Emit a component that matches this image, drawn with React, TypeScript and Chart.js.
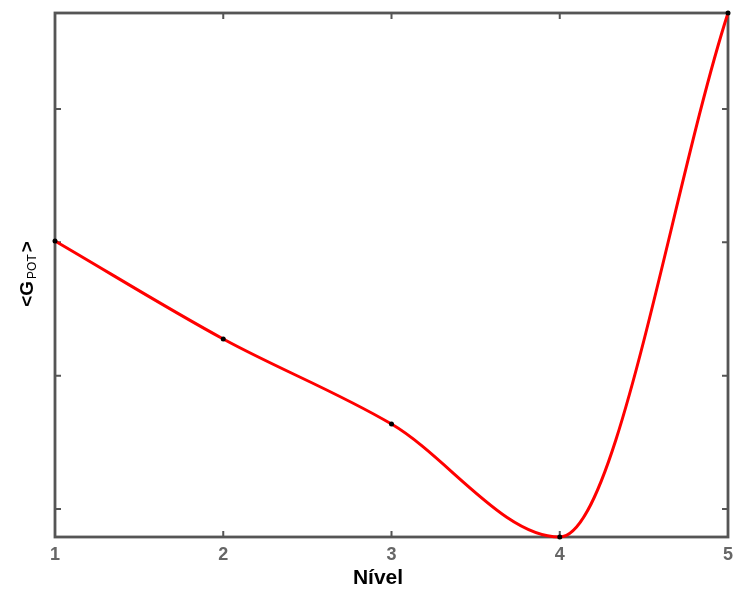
import React, { useEffect, useRef } from "react";
import { Chart, registerables } from "chart.js";

Chart.register(...registerables);

const levels = ["1", "2", "3", "4", "5"];
const gpot = [3.01, 2.275, 1.637, 0.79, 4.72];
const yTickValues = [1, 2, 3, 4];
const yMin = 0.79;
const yMax = 4.72;
const xTitle = "Nível";
const yTitleMain = "<G";
const yTitleSub = "POT";
const yTitleEnd = ">";

const framePlugin = {
  id: "frame",
  beforeDatasetsDraw(chart: any) {
    const { ctx, chartArea: a, scales } = chart;
    const xs = scales.x;
    const ys = scales.y;
    ctx.save();
    ctx.strokeStyle = "#555";
    ctx.lineWidth = 2.8;
    ctx.strokeRect(a.left, a.top, a.right - a.left, a.bottom - a.top);
    ctx.lineWidth = 2;
    const t = 6;
    ctx.beginPath();
    for (let i = 1; i < levels.length - 1; i++) {
      const px = xs.getPixelForValue(i);
      ctx.moveTo(px, a.bottom);
      ctx.lineTo(px, a.bottom - t);
      ctx.moveTo(px, a.top);
      ctx.lineTo(px, a.top + t);
    }
    for (const v of yTickValues) {
      const py = ys.getPixelForValue(v);
      ctx.moveTo(a.left, py);
      ctx.lineTo(a.left + t, py);
      ctx.moveTo(a.right, py);
      ctx.lineTo(a.right - t, py);
    }
    ctx.stroke();
    ctx.restore();
  },
  afterDraw(chart: any) {
    const { ctx } = chart;
    ctx.save();
    ctx.fillStyle = "#000";
    ctx.font = "bold 21px 'Liberation Sans', Arial, sans-serif";
    ctx.textAlign = "center";
    ctx.textBaseline = "alphabetic";
    ctx.fillText(xTitle, 378, 584);
    ctx.translate(33, 274);
    ctx.rotate(-Math.PI / 2);
    const bigFont = "bold 19px 'Liberation Sans', Arial, sans-serif";
    const smallFont = "12px 'Liberation Sans', Arial, sans-serif";
    ctx.font = bigFont;
    const w1 = ctx.measureText(yTitleMain).width;
    const w3 = ctx.measureText(yTitleEnd).width;
    ctx.font = smallFont;
    const w2 = ctx.measureText(yTitleSub).width;
    const total = w1 + w2 + w3 + 4;
    let x = -total / 2;
    ctx.textAlign = "left";
    ctx.font = bigFont;
    ctx.fillText(yTitleMain, x, 0);
    x += w1 + 2;
    ctx.font = smallFont;
    ctx.fillText(yTitleSub, x, 3);
    x += w2 + 2;
    ctx.font = bigFont;
    ctx.fillText(yTitleEnd, x, 0);
    ctx.restore();
  },
};

export default function App() {
  const ref = useRef<HTMLCanvasElement>(null);
  useEffect(() => {
    if (!ref.current) return;
    const chart = new Chart(ref.current, {
      type: "line",
      data: {
        labels: levels,
        datasets: [
          {
            data: gpot,
            borderColor: "#ff0000",
            borderWidth: 3,
            cubicInterpolationMode: "monotone",
            pointRadius: 2.5,
            pointBackgroundColor: "#000",
            pointBorderWidth: 0,
            fill: false,
            clip: false as any,
          },
        ],
      },
      options: {
        animation: false,
        responsive: false,
        devicePixelRatio: 1,
        layout: { padding: { left: 0, right: 0, top: 13, bottom: 0 } },
        plugins: { legend: { display: false }, tooltip: { enabled: false } },
        scales: {
          x: {
            offset: false,
            grid: { display: false, drawTicks: false },
            border: { display: false },
            ticks: {
              color: "#666",
              padding: 7,
              font: { family: "'Liberation Sans', Arial, sans-serif", size: 18, weight: "bold" },
              maxRotation: 0,
            },
            afterFit: (s: any) => {
              s.height = 53;
              s.paddingRight = 5;
            },
          },
          y: {
            min: yMin,
            max: yMax,
            grid: { display: false, drawTicks: false },
            border: { display: false },
            ticks: { display: false },
            afterFit: (s: any) => {
              s.width = 55;
            },
          },
        },
      },
      plugins: [framePlugin],
    });
    return () => chart.destroy();
  }, []);
  return (
    <div style={{ position: "absolute", left: 0, top: 0, width: 733, height: 590, background: "#fff" }}>
      <canvas ref={ref} width={733} height={590} style={{ width: 733, height: 590 }} />
    </div>
  );
}
